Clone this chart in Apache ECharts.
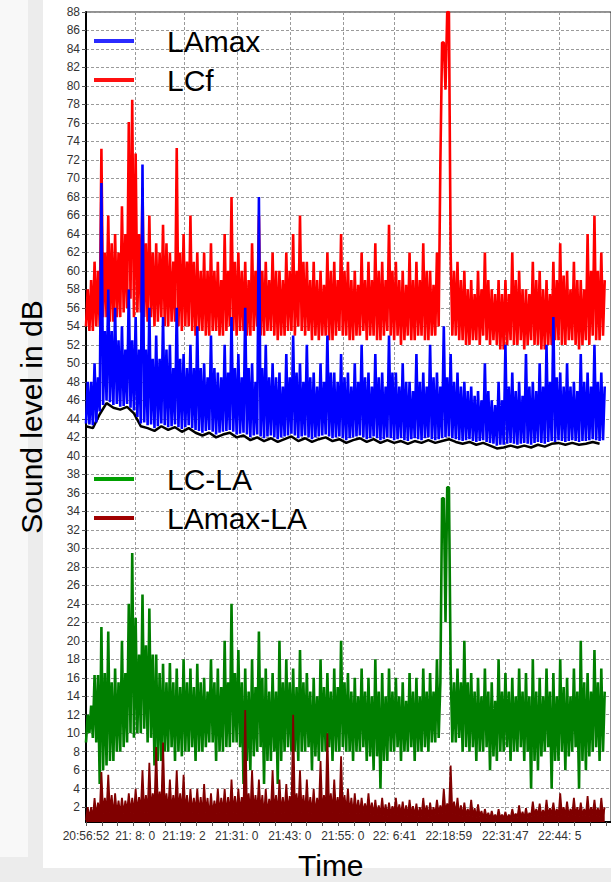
<!DOCTYPE html>
<html><head><meta charset="utf-8">
<script src="https://cdn.jsdelivr.net/npm/echarts@6/dist/echarts.min.js"></script>
<style>html,body{margin:0;padding:0;background:#ececec}#c{width:611px;height:882px}</style>
</head><body><div id="c"></div>
<script>
const FONT = '"Liberation Sans", Arial, Helvetica, sans-serif';

// seconds between consecutive samples (time 0 = 20:56:52)
const sampleSeconds = 23.25;

// time-axis labels (seconds after 20:56:52) and their texts
const timeLabelSeconds = [0, 668, 1330, 2048, 2768, 3488, 4189, 4927, 5695, 6433];
const timeLabels = ['20:56:52', '21: 8: 0', '21:19: 2', '21:31: 0', '21:43: 0', '21:55: 0', '22: 6:41', '22:18:59', '22:31:47', '22:44: 5'];

// y tick labels
const yTickValues = [2,4,6,8,10,12,14,16,18,20,22,24,26,28,30,32,34,36,38,40,42,44,46,48,50,52,54,56,58,60,62,64,66,68,70,72,74,76,78,80,82,84,86,88];

// LCf (dB), consecutive samples
const LCf = [
  54,58,53.5,59, 53.5,61,54,60, 54,73.2,55,62, 55,66,54.5,63, 54.5,64,55,62,
  55,67,55.5,64, 56,76.1,57,78.5, 55,72.7,55.5,64, 55.5,69,55,63, 54.5,66,55,62,
  54,63,54.5,62, 55,65,54,63, 54,62,54.5,61, 54.5,73.3,54,62, 53.5,64,54,61,
  54,66,53.5,61, 53,62,53.5,60, 53.5,62,53,60, 53,63,53.5,60, 53.5,61,53,59,
  53,64,53.5,60, 54,68,53.5,61, 53,62,53.5,60, 53.5,61,53,59, 53,63,53.5,60,
  54,66,53,60, 53,61,53.5,59, 53.5,62,53,60, 52.5,60,53,59, 53,62,53.5,60,
  53.5,64,53,60, 54,66,53.5,61, 53,61,53.5,59, 52.5,61,53,59, 52.5,60,53,58.5,
  53,62,52.5,60, 52.5,61,53,59, 53.5,64,53,60, 53,61,52.5,59, 52.5,60,53,58.5,
  53,62,53.5,59, 52.5,61,53,59, 53,63,52.5,60, 52.5,61,53,59, 53.5,65,53,60,
  52.5,61,53,59, 52,60,52.5,58.5, 53,62,52.5,59, 52.5,61,53,59, 53,63,52.5,60,
  52.5,60,53,58.5, 53,62,54,71.7, 84.7,84.7,79.6,88, 88,62,53,60, 53,61,52.5,59,
  52.5,60,52,58, 52,59,52.5,57.5, 52.5,60,52,58, 53,62,52.5,59, 52,58,52.5,57.5,
  52,59,51.5,57.5, 51.5,59,52,57.5, 52.5,62,52,59, 52,60,52.5,58, 51.5,58,52,57.5,
  52.5,61,52,59, 52,60,51.5,58, 51.5,59,52,57.5, 52,61,52.5,59, 52.5,63,52,59.5,
  52,60,52.5,58, 52.5,61,52,59, 51.5,59,52,58, 52.5,64,52,60, 53,66,52.5,60,
  52.5,62,53,59
];

// LAmax (dB), consecutive samples
const LAmax = [
  43.5,48,43.4,48, 43.3,50,43.6,48.5, 44.8,69.5,45.5,53.5, 46,58,45.8,53.5, 45.5,56,45.6,52.5,
  45.3,54,45.4,51.5, 45.6,58,45.2,52.5, 44.9,55,44.2,51.5, 43.5,71.5,43.6,51.5, 43.3,56,43.4,50.5,
  43,53,43.2,50.5, 43.5,55,43.3,51.5, 43.1,52,43.2,49.5, 43.4,56,43.1,50.5, 42.9,51,43.1,49.5,
  43.3,52,43,49.5, 42.8,54,42.7,49.5, 42.5,50,42.7,48.5, 42.8,53,42.6,49.5, 42.3,49,42.5,48.5,
  42.6,52,42.7,49, 42.8,55,42.6,49.5, 42.3,51,42.4,48.5, 42.5,56,42.3,49.5, 42,50,42.2,48,
  42.3,68,42.1,49.5, 41.9,52,42.1,48.5, 42.2,50,42,48.5, 41.8,49,42,47.5, 42.1,51,42.2,48.5,
  42.4,53,42.2,49, 41.9,50,42.1,48, 42.2,52,42,48.5, 41.8,49,42,47.5, 42.1,50,42.2,48,
  42.3,53,42.1,49, 41.9,49,42,48, 42.1,51,41.9,48.5, 41.7,49,41.9,47.5, 42,50,42.1,48,
  42.2,52,42,48.5, 41.8,49,41.9,47.5, 42.1,51,41.9,48.5, 41.7,49,41.8,47.5, 42,53,41.9,49,
  41.7,49,41.8,47.5, 41.9,50,41.7,48, 41.6,48,41.8,47, 41.9,51,41.8,48, 41.7,49,41.9,47.5,
  42,52,41.8,48.5, 41.7,49,41.8,47.5, 41.9,54,42,48.5, 42.1,51,41.9,48, 41.8,49,41.7,47.5,
  41.6,48,41.7,47, 41.8,47.5,41.6,46.5, 41.5,47,41.6,46, 41.7,50,41.5,47, 41.4,46,41.3,45.5,
  41.1,48,41.2,46, 41.2,52,41.3,47.5, 41.4,49,41.3,47, 41.2,48,41.3,46.5, 41.4,51,41.3,47.5,
  41.2,48,41.4,47, 41.5,50,41.4,47.5, 41.3,52,41.5,48, 41.6,55,41.5,48.5, 41.7,49,41.6,47.5,
  41.5,50,41.6,47.5, 41.7,48,41.6,47, 41.5,51,41.6,48, 41.6,49,41.7,47.5, 41.8,52,41.7,48,
  41.6,49,41.7,47.5
];

// LA (dB), one value every fourth sample (black trace under LAmax)
const LA = [
  43.2,43.0,44.5,45.7,45.2,45.0,45.3,44.6,43.2,43.0,
  42.7,43.2,42.8,43.1,42.6,43.0,42.5,42.2,42.5,42.0,
  42.3,42.5,42.0,42.2,41.7,42.0,41.6,41.9,41.5,41.8,
  42.1,41.6,41.9,41.5,41.8,42.0,41.6,41.8,41.4,41.7,
  41.9,41.5,41.8,41.4,41.7,41.4,41.6,41.3,41.6,41.4,
  41.7,41.4,41.6,41.8,41.5,41.3,41.5,41.2,41.4,41.1,
  40.8,40.9,41.1,40.9,41.1,40.9,41.2,41.0,41.3,41.4,
  41.2,41.4,41.2,41.3,41.5,41.3
];

// LC-LA (dB), consecutive samples
const LC_LA = [
  9,12,10,13, 9.5,16.3,9,16.3, 4.5,21.5,6,16.5, 6.5,21,7,15.5, 7,17,8,15.5,
  8,20,8.5,16.5, 9,24,10,29.5, 9.5,22.5,10,18.5, 10,25,10.5,19.5, 9,23.5,9.5,18.5,
  6.5,18.5,7,16.5, 7,17.5,8,15.5, 8,17.6,8.5,15.5, 7,17,8,15, 7.5,18,8,15.5,
  8,17,8.5,15, 7,17.5,8,15.5, 8,16,8.5,14.5, 9,18,9,15.5, 7,17,8,15,
  8,20,8.5,15.5, 8.5,24,9,16.5, 9,19,8.5,15.5, 4.5,17,7,14.5, 6,18,7.5,15,
  8,21,8.5,16, 4.5,17,7,14.5, 7,16.5,8,14.5, 4.5,20,7,15.5, 8,18,8.5,15.5,
  8,17,8,15, 7,19,8,15.5, 8,16.5,8.5,14.5, 6,16,7.5,14, 7,18,8,15,
  8,16.5,8.5,14.5, 7,17,8,15, 8,20,8.5,15.5, 8,16.5,8,14.5, 7,16,8,14,
  8,17,8.5,14.5, 7,16,7.5,14, 6,18,7.5,14.5, 4,16.5,7,14, 7,17,8,14.5,
  8,16,8.5,14, 7,15.5,8,13.5, 8,16.5,8.5,14.5, 7,16,8,14, 8,17,8.5,14.5,
  8,16.5,9,14.5, 9,18,9.5,15.5, 35.4,35.4,22,36.6, 36.6,17,9,15.5, 9,17,9.5,15.5,
  8,20,8.5,15.5, 8,16.5,8.5,14.5, 7,16,8,14, 8,17,8.5,14.5, 6,15.5,7.5,13.5,
  7,18,8,14.5, 8,16.5,8.5,14.5, 7,16,8,14, 8,17,8.5,14.5, 7,16.5,8,14,
  4,18,7,14.5, 6,16,7.5,14, 8,17,8.5,14.5, 4,16.5,7,14, 7,18,8,15,
  6,16,7.5,14, 8,17,8.5,14.5, 4,20,7,15.5, 6,16.5,7.5,14.5, 8,19,8.5,15.5,
  7,17,8,14.5
];

// LAmax-LA (dB), consecutive samples
const LAmax_LA = [
  0.6,2,0.8,2, 0.8,3,1,2.5, 1.2,5.8,1.3,3, 1.5,5.5,1.4,3.3, 1,3.5,1.2,2.7,
  1.2,3,1.3,2.7, 1.5,3.5,1.4,3, 1.3,4,1.5,3.1, 1.5,6,1.4,3.3, 1.4,6.8,1.6,3.5,
  2,8.5,1.8,3.7, 1.8,9,1.7,3.5, 1.5,5,1.6,3.3, 1.6,6,1.5,3.5, 1.4,5.5,1.5,3.3,
  1.2,4,1.4,3, 1.5,4,1.3,3.1, 1.2,4.5,1.4,3, 0.9,3.5,1.2,2.7, 1.3,4,1.4,3,
  1.5,4,1.3,3.1, 1.2,5,1.4,3.2, 1.3,4,1.5,3.1, 1.5,12.5,1.6,3.5, 1.2,6,1.4,3.3,
  1.4,5,1.5,3.3, 1,4,1.2,2.9, 1.5,6,1.4,3.3, 1.2,5,1.3,3.1, 1.4,4.5,1.5,3.2,
  1.3,12,1.5,3.5, 1.5,6,1.4,3.3, 1.2,5,1.4,3.1, 1.3,4,1.2,3, 1.5,7,1.4,3.3,
  1.6,10,1.5,3.5, 1.4,5,1.5,3.1, 1.3,7.5,1.4,3.3, 1.5,4,1.3,3, 1.2,3.5,1.3,2.8,
  1.3,3,1.4,2.4, 1.4,3.5,1.3,2.5, 1.1,2.8,1.2,2.2, 1.2,3,1.1,2.3, 1,2.5,1.2,2.1,
  1.3,3,1.2,2.3, 1.2,2.6,1.1,2.2, 1,2.8,1.2,2.1, 1.1,2.4,1,2, 1,3,1.2,2.2,
  0.9,2.5,1.1,2, 1.2,2.8,1.3,2.2, 1.3,4,1.4,2.4, 1.5,6.5,1.3,2.6, 1.2,3,1.1,2.2,
  1,2.5,1.1,1.8, 1.1,2.8,1,1.9, 0.9,2.3,1,1.6, 0.8,1.8,0.9,1.4, 0.7,1.6,0.8,1.2,
  0.7,1.8,0.8,1.2, 0.8,1.5,0.7,1.2, 0.8,1.8,0.9,1.3, 0.9,2.2,0.8,1.5, 0.8,1.9,0.9,1.4,
  1,2.6,1.1,1.8, 1.1,2.4,1,1.7, 1,2.8,1.1,1.9, 1.2,2.5,1.1,1.8, 1,3.5,1.2,2,
  1.1,2.6,1,1.8, 1.2,3,1.1,2, 1,2.5,1.1,1.8, 1.1,3.2,1,2, 1.2,2.8,1.1,1.9,
  1,3,1.1,2
];

function toPoints(values, samplesPerValue) {
  return values.map((v, i) => [i * sampleSeconds * samplesPerValue, v]);
}

const chart = echarts.init(document.getElementById('c'), null, {renderer: 'svg'});
const gridLine = {type: [3, 2], color: '#9a9a9a', width: 1};
const X_MAX = 7130;

chart.setOption({
  animation: false,
  backgroundColor: '#ececec',
  graphic: [
    {type: 'rect', z: -100, silent: true, shape: {x: 0, y: 0, width: 28, height: 857}, style: {fill: '#f8f8f8'}},
    {type: 'rect', z: -100, silent: true, shape: {x: 43, y: 0, width: 568, height: 868}, style: {fill: '#ffffff'}}
  ],
  title: {
    text: 'Time', left: 298, top: 850, padding: 0,
    textStyle: {fontFamily: FONT, fontSize: 30, fontWeight: 'normal', color: '#000'}
  },
  legend: [
    {
      data: [{name: 'LAmax', itemStyle: {color: '#2a2aff'}}, {name: 'LCf', itemStyle: {color: '#ff1010'}}],
      orient: 'vertical', left: 94, top: 22, padding: 0, itemGap: 1,
      icon: 'rect', itemWidth: 40, itemHeight: 4, selectedMode: false,
      textStyle: {fontFamily: FONT, fontSize: 30, color: '#000', lineHeight: 30, padding: [0, 0, 8, 28]}
    },
    {
      data: [{name: 'LC-LA', itemStyle: {color: '#00a000'}}, {name: 'LAmax-LA', itemStyle: {color: '#a00000'}}],
      orient: 'vertical', left: 94, top: 460, padding: 0, itemGap: 1,
      icon: 'rect', itemWidth: 40, itemHeight: 4, selectedMode: false,
      textStyle: {fontFamily: FONT, fontSize: 30, color: '#000', lineHeight: 30, padding: [0, 0, 8, 28]}
    }
  ],
  grid: {left: 86, right: -10, top: 12, bottom: 60, show: true, borderColor: '#222', borderWidth: 1, backgroundColor: 'transparent'},
  xAxis: [
    {
      type: 'value', min: 0, max: X_MAX, position: 'bottom',
      axisLine: {show: true, lineStyle: {color: '#000', width: 2}},
      axisTick: {show: false, customValues: timeLabelSeconds},
      axisLabel: {
        customValues: timeLabelSeconds, fontFamily: FONT, fontSize: 12, color: '#333', margin: 8,
        formatter: v => { const k = timeLabelSeconds.indexOf(Math.round(v)); return k >= 0 ? timeLabels[k] : ''; }
      },
      splitLine: {show: true, lineStyle: gridLine}
    },
    {
      type: 'value', min: 0, max: X_MAX, interval: 214, position: 'bottom',
      axisLine: {show: false},
      axisTick: {show: true, length: 4, lineStyle: {color: '#555'}},
      axisLabel: {show: false},
      splitLine: {show: false}
    }
  ],
  yAxis: {
    type: 'value', min: 0.4, max: 88,
    name: 'Sound level in dB', nameLocation: 'middle', nameGap: 40,
    nameTextStyle: {fontFamily: FONT, fontSize: 30, color: '#000'},
    axisLine: {show: true, lineStyle: {color: '#000', width: 2}},
    axisTick: {show: true, length: 4, customValues: yTickValues, lineStyle: {color: '#555'}},
    axisLabel: {customValues: yTickValues, fontFamily: FONT, fontSize: 12, color: '#333', margin: 6},
    splitLine: {show: true, lineStyle: gridLine}
  },
  series: [
    {name: 'LCf', type: 'line', data: toPoints(LCf, 1), showSymbol: false, symbol: 'none',
     lineStyle: {color: '#ff0000', width: 2.6}, itemStyle: {color: '#ff0000'}},
    {name: 'LA', type: 'line', data: toPoints(LA, 4), showSymbol: false, symbol: 'none',
     lineStyle: {color: '#000', width: 2.5}, itemStyle: {color: '#000'}},
    {name: 'LAmax', type: 'line', data: toPoints(LAmax, 1), showSymbol: false, symbol: 'none',
     lineStyle: {color: '#0000ff', width: 2.6}, itemStyle: {color: '#0000ff'}},
    {name: 'LC-LA', type: 'line', data: toPoints(LC_LA, 1), showSymbol: false, symbol: 'none',
     lineStyle: {color: '#007f00', width: 2.6}, itemStyle: {color: '#007f00'}},
    {name: 'LAmax-LA', type: 'line', data: toPoints(LAmax_LA, 1), showSymbol: false, symbol: 'none',
     lineStyle: {color: '#800000', width: 1.8}, itemStyle: {color: '#800000'},
     areaStyle: {color: '#800000', opacity: 1}}
  ]
});
</script>
</body></html>
